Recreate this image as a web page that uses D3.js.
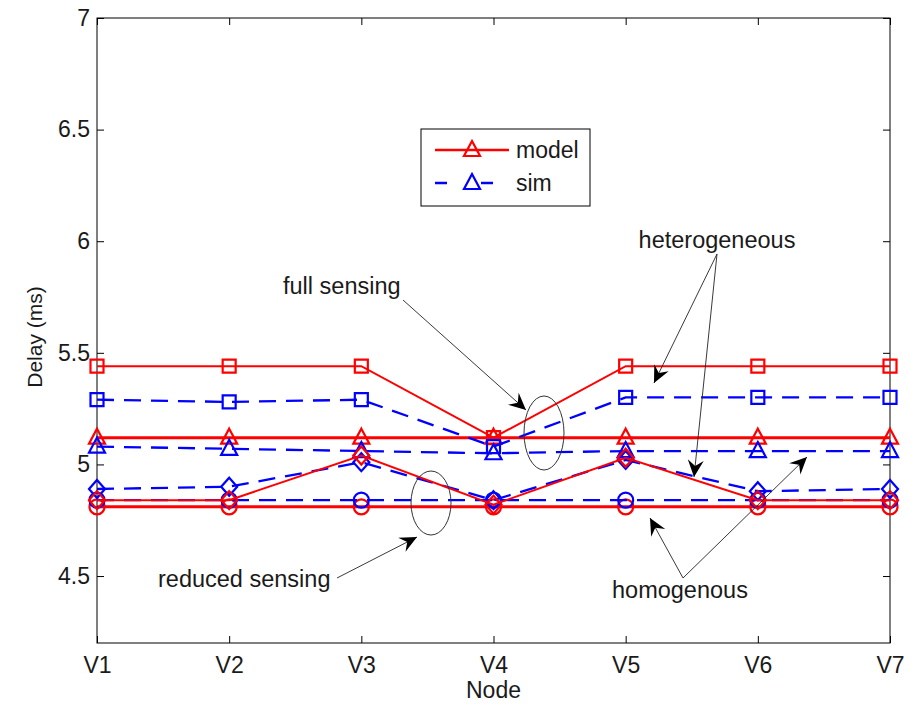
<!DOCTYPE html>
<html>
<head>
<meta charset="utf-8">
<script src="https://cdn.jsdelivr.net/npm/d3@7"></script>
<style>
  body { margin: 0; background: #fff; }
  text { font-family: "Liberation Sans", Arial, sans-serif; fill: #1a1a1a; }
</style>
</head>
<body>
<div id="chart"></div>
<script>
// data
var nodes = ["V1", "V2", "V3", "V4", "V5", "V6", "V7"];
var yTicks = [4.5, 5, 5.5, 6, 6.5, 7];

var modelHetFull = [5.44, 5.44, 5.44, 5.12, 5.44, 5.44, 5.44];
var modelHomFull = [5.12, 5.12, 5.12, 5.12, 5.12, 5.12, 5.12];
var modelHetReduced = [4.84, 4.84, 5.04, 4.82, 5.03, 4.84, 4.84];
var modelHomReduced = [4.81, 4.81, 4.81, 4.81, 4.81, 4.81, 4.81];

var simHetFull = [5.29, 5.28, 5.29, 5.08, 5.30, 5.30, 5.30];
var simHomFull = [5.08, 5.07, 5.06, 5.05, 5.06, 5.06, 5.06];
var simHetReduced = [4.89, 4.90, 5.01, 4.84, 5.02, 4.88, 4.89];
var simHomReduced = [4.84, 4.84, 4.84, 4.84, 4.84, 4.84, 4.84];

var legendItems = ["model", "sim"];

var svgWidth = 917;
var svgHeight = 706;
var margin = { top: 18, right: 27, bottom: 63, left: 97 };
var chartWidth = svgWidth - margin.left - margin.right;
var chartHeight = svgHeight - margin.top - margin.bottom;

var svg = d3.select("#chart")
  .append("svg")
  .attr("width", svgWidth)
  .attr("height", svgHeight);

svg.append("rect").attr("width", svgWidth).attr("height", svgHeight).attr("fill", "#fff");

var chartGroup = svg.append("g")
  .attr("transform", `translate(${margin.left}, ${margin.top})`);

var xScale = d3.scalePoint().domain(nodes).range([0, chartWidth]);
var yScale = d3.scaleLinear().domain([4.2, 7]).range([chartHeight, 0]);

// axes: MATLAB style box with inward ticks
var tickLen = 7;
chartGroup.append("g")
  .attr("transform", `translate(0, ${chartHeight})`)
  .call(d3.axisBottom(xScale).tickSize(-tickLen).tickPadding(14))
  .call(g => g.select(".domain").remove())
  .selectAll("text").style("font-size", "23px");

chartGroup.append("g")
  .call(d3.axisTop(xScale).tickSize(-tickLen).tickFormat(""))
  .call(g => g.select(".domain").remove());

chartGroup.append("g")
  .call(d3.axisLeft(yScale).tickValues(yTicks).tickSize(-tickLen).tickPadding(7).tickFormat(d3.format("")))
  .call(g => g.select(".domain").remove())
  .selectAll("text").style("font-size", "23px");

chartGroup.append("g")
  .attr("transform", `translate(${chartWidth}, 0)`)
  .call(d3.axisRight(yScale).tickValues(yTicks).tickSize(-tickLen).tickFormat(""))
  .call(g => g.select(".domain").remove());

chartGroup.selectAll(".tick line").attr("stroke", "#000");
chartGroup.selectAll(".tick text").attr("fill", "#1a1a1a");

chartGroup.append("rect")
  .attr("width", chartWidth)
  .attr("height", chartHeight)
  .attr("fill", "none")
  .attr("stroke", "#000")
  .attr("stroke-width", 1);

svg.append("text")
  .attr("transform", "translate(42, 337) rotate(-90)")
  .style("text-anchor", "middle")
  .style("font-size", "21px")
  .text("Delay (ms)");

svg.append("text")
  .attr("x", margin.left + chartWidth / 2)
  .attr("y", 698)
  .style("text-anchor", "middle")
  .style("font-size", "23px")
  .text("Node");

// marker shapes
function markerPath(type) {
  if (type === "square") return "M-6.5,-6.5H6.5V6.5H-6.5Z";
  if (type === "triangle") return "M0,-9L8,6H-8Z";
  if (type === "diamond") return "M0,-9L8,0L0,9L-8,0Z";
  return "M7.5,0A7.5,7.5 0 1,1 -7.5,0A7.5,7.5 0 1,1 7.5,0Z";
}

var series = [
  { values: modelHomReduced, color: "#ff0000", dash: null, width: 3, marker: "circle" },
  { values: modelHomFull, color: "#ff0000", dash: null, width: 3, marker: "triangle" },
  { values: modelHetFull, color: "#ff0000", dash: null, width: 2, marker: "square" },
  { values: simHetFull, color: "#0000ff", dash: "17,10", width: 2.3, marker: "square" },
  { values: simHomFull, color: "#0000ff", dash: "17,10", width: 2.3, marker: "triangle" },
  { values: simHetReduced, color: "#0000ff", dash: "17,10", width: 2.3, marker: "diamond" },
  { values: simHomReduced, color: "#0000ff", dash: "17,10", width: 2.3, marker: "circle" },
  { values: modelHetReduced, color: "#ff0000", dash: null, width: 2, marker: "diamond" }
];

var line = d3.line()
  .x((d, i) => xScale(nodes[i]))
  .y(d => yScale(d));

series.forEach(function(s) {
  var g = chartGroup.append("g");
  g.append("path")
    .attr("d", line(s.values))
    .attr("fill", "none")
    .attr("stroke", s.color)
    .attr("stroke-width", s.width)
    .attr("stroke-dasharray", s.dash);
  g.selectAll("path.mk")
    .data(s.values)
    .enter()
    .append("path")
    .attr("class", "mk")
    .attr("transform", (d, i) => `translate(${xScale(nodes[i])}, ${yScale(d)})`)
    .attr("d", markerPath(s.marker))
    .attr("fill", "none")
    .attr("stroke", s.color)
    .attr("stroke-width", 2.2);
});

// legend
var legend = svg.append("g").attr("transform", "translate(421, 129)");
legend.append("rect")
  .attr("width", 169).attr("height", 77)
  .attr("fill", "#fff").attr("stroke", "#000").attr("stroke-width", 1);
var legendColors = ["#ff0000", "#0000ff"];
var legendDash = [null, "12,34"];
legendItems.forEach(function(name, i) {
  var ly = 21 + i * 33;
  legend.append("line")
    .attr("x1", 14).attr("x2", 88).attr("y1", ly).attr("y2", ly)
    .attr("stroke", legendColors[i]).attr("stroke-width", 2.5)
    .attr("stroke-dasharray", legendDash[i]);
  legend.append("path")
    .attr("transform", `translate(51, ${ly})`)
    .attr("d", markerPath("triangle"))
    .attr("fill", "none").attr("stroke", legendColors[i]).attr("stroke-width", 2.2);
  legend.append("text")
    .attr("x", 95).attr("y", ly + 8)
    .style("font-size", "23px")
    .text(name);
});

// annotations
var defs = svg.append("defs");
defs.append("marker")
  .attr("id", "head")
  .attr("viewBox", "-18 -9 20 18")
  .attr("markerWidth", 20).attr("markerHeight", 18)
  .attr("markerUnits", "userSpaceOnUse")
  .attr("refX", 0).attr("refY", 0)
  .attr("orient", "auto")
  .append("path")
  .attr("d", "M0,0L-17,-8L-11,0L-17,8Z")
  .attr("fill", "#000");

var ann = svg.append("g");
function arrow(x1, y1, x2, y2) {
  ann.append("line")
    .attr("x1", x1).attr("y1", y1).attr("x2", x2).attr("y2", y2)
    .attr("stroke", "#222").attr("stroke-width", 0.9)
    .attr("marker-end", "url(#head)");
}
function label(x, y, t, anchor) {
  ann.append("text").attr("x", x).attr("y", y)
    .style("font-size", "23.5px").style("text-anchor", anchor || "start").text(t);
}

ann.append("ellipse").attr("cx", 544).attr("cy", 433).attr("rx", 20).attr("ry", 37)
  .attr("fill", "none").attr("stroke", "#333").attr("stroke-width", 1);
ann.append("ellipse").attr("cx", 431).attr("cy", 503).attr("rx", 20).attr("ry", 32)
  .attr("fill", "none").attr("stroke", "#333").attr("stroke-width", 1);

label(283, 294, "full sensing");
arrow(403, 300, 526, 410);

label(717, 248, "heterogeneous", "middle");
arrow(717, 254, 654, 383);
arrow(717, 254, 694, 477);

label(158, 587, "reduced sensing");
arrow(337, 578, 417, 537);

label(612, 598, "homogenous");
arrow(683, 578, 650, 518);
arrow(683, 578, 807, 457);
</script>
</body>
</html>
